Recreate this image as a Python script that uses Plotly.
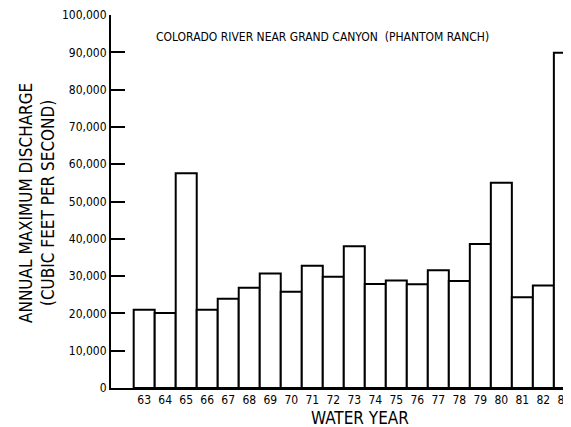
import plotly.graph_objects as go

years = [63, 64, 65, 66, 67, 68, 69, 70, 71, 72, 73, 74, 75, 76, 77, 78, 79, 80, 81, 82, 83]
year_labels = [str(y) for y in years]
discharge = [21000, 20100, 57600, 21000, 23900, 26900, 30700, 25800, 32800, 29800, 38000,
             27900, 28800, 27800, 31600, 28700, 38600, 55000, 24300, 27500, 89900]
y_ticks = [0, 10000, 20000, 30000, 40000, 50000, 60000, 70000, 80000, 90000, 100000]
y_tick_labels = ["0", "10,000", "20,000", "30,000", "40,000", "50,000", "60,000",
                 "70,000", "80,000", "90,000", "100,000"]

FONT = "Liberation Sans Narrow, DejaVu Sans Condensed, Arial Narrow, sans-serif"

fig = go.Figure(go.Bar(
    x=years, y=discharge, width=1,
    marker=dict(color="white", line=dict(color="black", width=2)),
))

# page body has an 8px default margin, so the figure is sized 8px smaller
fig.update_layout(
    width=563, height=419,
    margin=dict(l=103, r=0, t=7, b=39),
    paper_bgcolor="white", plot_bgcolor="white",
    showlegend=False,
    font=dict(family=FONT, color="black"),
    xaxis=dict(
        range=[61.42, 83.03], tickmode="array", tickvals=years, ticktext=year_labels,
        showgrid=False, zeroline=False, showline=True, linecolor="black", linewidth=2,
        ticks="", ticklabeloverflow="allow",
        tickfont=dict(size=12, family=FONT, color="black"),
    ),
    yaxis=dict(
        range=[0, 100000], tickmode="array", tickvals=y_ticks, ticktext=y_tick_labels,
        showgrid=False, zeroline=False, showline=True, linecolor="black", linewidth=2,
        ticks="inside", ticklen=14, tickwidth=2, tickcolor="black",
        tickfont=dict(size=12, family=FONT, color="black"),
    ),
    annotations=[
        dict(text="COLORADO RIVER NEAR GRAND CANYON  (PHANTOM RANCH)", xref="paper", yref="paper",
             x=(325 - 111) / 460, y=(388 - 37) / 373, xanchor="center", yanchor="middle",
             showarrow=False, font=dict(size=12, family=FONT, color="black")),
        dict(text="ANNUAL MAXIMUM DISCHARGE<br>(CUBIC FEET PER SECOND)", xref="paper", yref="paper",
             x=(36 - 111) / 460, y=(388 - 203) / 373, xanchor="center", yanchor="middle",
             textangle=-90, showarrow=False, align="center",
             font=dict(size=17, family=FONT, color="black")),
        dict(text="WATER YEAR", xref="paper", yref="paper",
             x=(363 - 111) / 460, y=(388 - 418) / 373, xanchor="center", yanchor="middle",
             showarrow=False, font=dict(size=17, family=FONT, color="black")),
    ],
)

fig.write_html("out.html")
